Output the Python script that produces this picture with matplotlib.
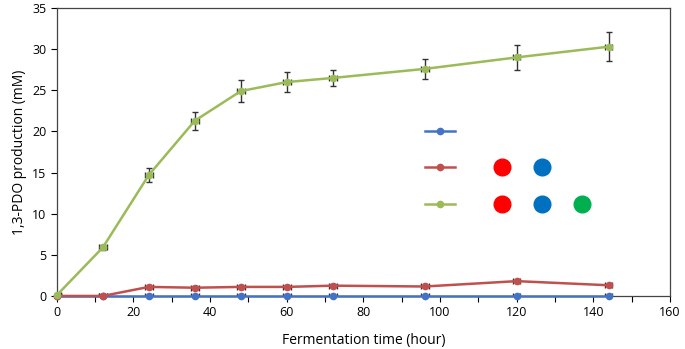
import numpy as np
import matplotlib as mpl
mpl.use('Agg')
import matplotlib.pyplot as plt

# data
time_h = [0, 12, 24, 36, 48, 60, 72, 96, 120, 144]
pdo_blue = [0, 0, 0, 0, 0, 0, 0, 0, 0, 0]
pdo_red = [0, 0, 1.1, 1.0, 1.1, 1.1, 1.25, 1.15, 1.8, 1.3]
pdo_green = [0.1, 5.9, 14.7, 21.3, 24.9, 26.0, 26.5, 27.6, 29.0, 30.3]
err_green = [0.1, 0.3, 0.9, 1.1, 1.3, 1.2, 1.0, 1.2, 1.5, 1.8]
err_red = [0, 0, 0.15, 0.15, 0.1, 0.1, 0.15, 0.1, 0.15, 0.15]
err_blue = [0, 0, 0, 0, 0, 0, 0, 0, 0, 0]
xerr_pts = [1, 1, 1, 1, 1, 1, 1, 1, 1, 1]

line_colors = ['#4472C4', '#C0504D', '#9BBB59']
dot_colors = ['#FF0000', '#0070C0', '#00B050']
dots_per_row = [0, 2, 3]

plt.rcParams['font.family'] = ['Open Sans', 'DejaVu Sans']

fig = plt.figure(figsize=(6.85, 3.49), dpi=100)
ax = fig.add_axes([0.083, 0.152, 0.895, 0.825])

for y, e, c in [(pdo_blue, err_blue, line_colors[0]),
                (pdo_red, err_red, line_colors[1]),
                (pdo_green, err_green, line_colors[2])]:
    bars = ax.errorbar(time_h, y, yerr=e, xerr=xerr_pts, color=c, lw=1.8,
                       marker='o', ms=4.5, ecolor='#333333', elinewidth=1,
                       capsize=2.5, capthick=1, zorder=3)
    bars[0].set_clip_on(False)

# key drawn inside the plot area (no text in the original)
key_y = [0.573, 0.448, 0.32]
for i, ky in enumerate(key_y):
    ax.plot([0.600, 0.650], [ky, ky], color=line_colors[i], lw=1.8,
            transform=ax.transAxes)
    ax.plot([0.625], [ky], 'o', color=line_colors[i], ms=4.5,
            transform=ax.transAxes)
    for j in range(dots_per_row[i]):
        ax.plot([0.726 + 0.065 * j], [ky], 'o', color=dot_colors[j], ms=12,
                transform=ax.transAxes)

ax.set_xlim(0, 160)
ax.set_ylim(0, 35)
ax.set_xticks(np.arange(0, 161, 20))
ax.set_xticks(np.arange(0, 161, 10), minor=True)
ax.set_yticks(np.arange(0, 36, 5))
ax.tick_params(which='both', direction='out', length=4, width=0.8, labelsize=9)
ax.set_xlabel('Fermentation time (hour)', fontsize=10, labelpad=10)
ax.set_ylabel('1,3-PDO production (mM)', fontsize=10)
for s in ax.spines.values():
    s.set_color('#444444')
    s.set_linewidth(0.9)

fig.savefig('out.png', dpi=100)
